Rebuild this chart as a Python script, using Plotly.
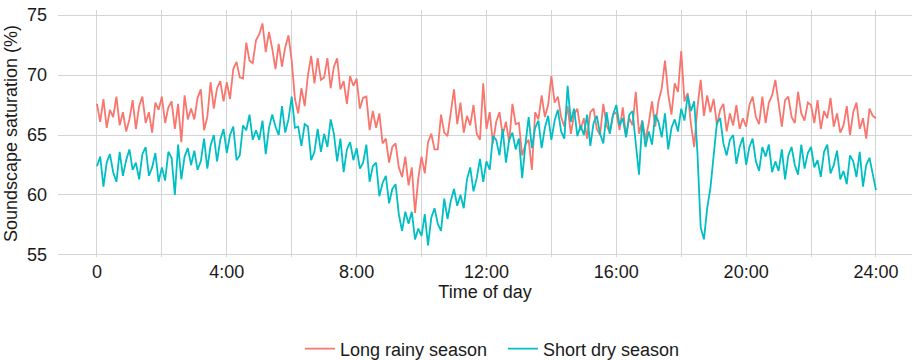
import plotly.graph_objects as go

# Sampling grid: one reading every 6 minutes over the day (hours)
time_h = [i / 10 for i in range(241)]

long_rainy = [
    67.6, 66.1, 68.0, 65.6, 67.1, 66.5, 68.2, 65.8, 66.9, 65.3,
    66.3, 67.9, 65.5, 67.4, 68.2, 66.0, 66.9, 65.2, 67.7, 67.1,
    68.2, 66.0, 67.3, 67.8, 65.5, 67.6, 64.4, 68.3, 66.3, 67.2,
    66.3, 68.1, 68.8, 65.4, 66.5, 69.4, 67.2, 68.9, 69.5, 67.8,
    69.4, 68.0, 70.5, 71.1, 69.8, 69.7, 72.7, 71.2, 71.0, 72.9,
    73.4, 74.3, 71.9, 73.6, 72.2, 70.5, 72.6, 70.7, 72.3, 73.3,
    71.2, 68.0, 66.8, 68.9, 67.4, 70.0, 71.6, 69.3, 71.4, 69.6,
    69.8, 71.4, 68.9, 70.7, 71.4, 68.8, 69.5, 67.6, 69.9, 69.1,
    69.7, 67.2, 68.1, 68.2, 65.4, 67.0, 65.6, 66.8, 64.3, 64.7,
    62.7, 64.0, 64.3, 62.3, 61.5, 63.2, 60.8, 62.3, 58.5, 61.4,
    63.2, 61.8, 64.4, 65.1, 63.8, 63.8, 66.7, 65.2, 64.9, 66.7,
    68.8, 65.9, 67.7, 65.2, 66.6, 65.8, 67.5, 65.1, 64.6, 69.3,
    65.5, 66.9, 64.3, 66.1, 66.9, 65.0, 66.1, 64.4, 67.6, 65.9,
    66.0, 63.3, 64.2, 64.6, 62.1, 66.9, 66.3, 68.3, 66.5, 67.5,
    69.9, 67.7, 68.2, 66.5, 65.7, 67.4, 65.1, 66.7, 67.2, 65.4,
    66.4, 64.7, 66.9, 67.2, 65.5, 65.0, 67.6, 65.8, 65.2, 66.7,
    66.9, 65.4, 67.3, 64.9, 66.4, 65.8, 68.6, 65.1, 66.2, 64.6,
    66.0, 67.8, 65.7, 67.8, 68.9, 71.2, 68.4, 66.7, 69.3, 68.6,
    72.0, 67.8, 68.5, 65.9, 64.0, 67.3, 69.6, 66.6, 68.3, 66.9,
    68.0, 65.8, 67.1, 67.6, 65.3, 66.8, 65.8, 67.5, 65.5, 66.4,
    65.7, 67.5, 68.2, 66.5, 65.9, 68.2, 66.0, 67.7, 68.3, 69.6,
    67.4, 65.7, 67.9, 68.2, 66.5, 66.0, 68.6, 66.8, 66.2, 67.7,
    67.5, 66.0, 67.9, 65.5, 67.0, 66.4, 68.1, 65.7, 66.8, 65.2,
    65.8, 67.4, 65.0, 66.9, 67.7, 65.5, 66.4, 64.7, 67.2, 66.6,
    66.4,
]

short_dry = [
    62.4, 63.2, 60.7, 62.7, 63.4, 61.9, 61.1, 63.6, 61.6, 62.9,
    63.8, 62.1, 62.7, 61.3, 63.4, 64.0, 61.6, 62.3, 63.5, 61.1,
    62.3, 61.2, 63.6, 63.1, 60.0, 64.2, 61.3, 63.2, 63.9, 62.5,
    63.7, 62.1, 62.8, 64.7, 62.2, 64.1, 65.0, 62.8, 64.6, 65.5,
    63.5, 65.0, 65.7, 62.9, 63.3, 65.8, 65.4, 66.7, 64.6, 65.4,
    64.6, 66.2, 63.4, 65.6, 66.7, 65.7, 65.0, 67.4, 65.2, 66.3,
    68.2, 65.6, 65.7, 64.1, 65.9, 65.7, 62.9, 63.6, 65.5, 63.6,
    65.1, 64.0, 66.3, 65.1, 62.8, 64.7, 61.9, 63.8, 64.4, 62.9,
    63.9, 62.2, 62.7, 64.2, 61.1, 62.4, 62.7, 59.9, 61.0, 61.6,
    59.3, 60.5, 60.9, 58.4, 57.0, 58.6, 57.6, 58.6, 56.3, 57.2,
    56.6, 58.4, 55.8, 58.1, 58.9, 57.6, 57.0, 59.7, 58.0, 59.5,
    60.5, 59.1, 60.0, 58.9, 61.3, 62.3, 60.3, 61.4, 63.0, 61.1,
    62.8, 62.1, 64.9, 64.6, 63.3, 65.5, 62.7, 64.6, 65.2, 63.8,
    64.7, 61.4, 64.2, 66.5, 63.9, 65.6, 66.2, 63.9, 65.6, 66.6,
    64.6, 66.2, 67.1, 65.3, 64.7, 69.1, 66.1, 67.2, 64.9, 65.8,
    65.0, 66.7, 64.1, 66.0, 66.6, 65.1, 64.3, 66.9, 65.1, 66.7,
    67.5, 65.8, 66.4, 64.8, 66.7, 67.0, 64.3, 61.7, 66.2, 64.0,
    65.3, 64.2, 66.7, 66.1, 64.8, 66.8, 63.8, 65.6, 66.3, 65.3,
    67.2, 66.2, 68.3, 67.0, 67.8, 63.5, 57.3, 56.3, 58.9, 60.6,
    63.3, 66.0, 66.4, 64.3, 63.3, 64.6, 65.0, 62.6, 64.0, 64.8,
    62.5, 64.0, 64.7, 62.8, 62.0, 64.0, 63.2, 64.2, 61.9, 62.8,
    62.0, 63.8, 61.3, 63.3, 64.0, 62.5, 61.7, 64.2, 62.2, 63.5,
    64.0, 62.3, 62.9, 61.5, 63.6, 64.2, 61.8, 62.5, 63.7, 61.3,
    62.0, 60.9, 63.3, 62.8, 61.5, 63.6, 60.7, 62.5, 63.1, 61.7,
    60.4,
]

tick_vals = [0, 2, 4, 6, 8, 10, 12, 14, 16, 18, 20, 22, 24]
tick_text = ["0", "", "4:00", "", "8:00", "", "12:00", "", "16:00", "", "20:00", "", "24:00"]

RED = "#F8766D"
TEAL = "#00BFC4"
GRID = "#d4d4d4"
FONT = "Liberation Sans, Arial, sans-serif"

fig = go.Figure()
fig.add_trace(go.Scatter(x=time_h, y=long_rainy, mode="lines", name="Long rainy season",
                         line=dict(color=RED, width=1.8)))
fig.add_trace(go.Scatter(x=time_h, y=short_dry, mode="lines", name="Short dry season",
                         line=dict(color=TEAL, width=1.8)))

fig.update_layout(
    width=912, height=360,
    margin=dict(l=58, r=0, t=10, b=103, autoexpand=False),
    paper_bgcolor="white", plot_bgcolor="white",
    font=dict(family=FONT, size=18, color="#1a1a1a"),
    showlegend=True,
    legend=dict(orientation="h", x=0.521, xanchor="center", y=-0.372, yanchor="middle",
                font=dict(size=18), itemwidth=30, traceorder="normal",
                entrywidth=158, entrywidthmode="pixels"),
    xaxis=dict(
        range=[-1.2, 25.11], tickvals=tick_vals, ticktext=tick_text,
        showgrid=True, gridcolor=GRID, gridwidth=1.3, zeroline=False,
        showline=False, ticks="", tickfont=dict(size=18), ticklabelstandoff=2,
        title=dict(text="Time of day", font=dict(size=18), standoff=2),
    ),
    yaxis=dict(
        range=[54.83, 75.42], tickvals=[55, 60, 65, 70, 75],
        showgrid=True, gridcolor=GRID, gridwidth=1.3, zeroline=False,
        showline=False, ticks="", tickfont=dict(size=18), ticklabelstandoff=10,
        title=dict(text="Soundscape saturation (%)", font=dict(size=18), standoff=4),
    ),
)

fig.write_html("out.html")
